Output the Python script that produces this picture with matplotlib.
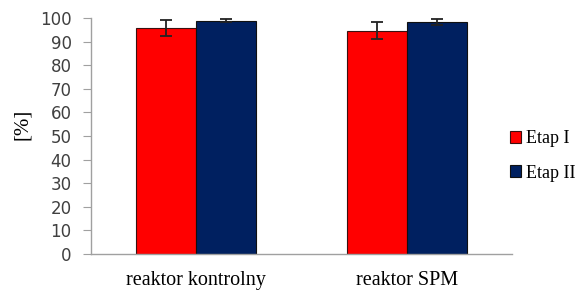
import matplotlib
matplotlib.use("Agg")
import matplotlib.pyplot as plt
import numpy as np

categories = ["reaktor kontrolny", "reaktor SPM"]
series_names = ["Etap I", "Etap II"]
etap1 = [95.6, 94.6]
etap1_err = [3.4, 3.7]
etap2 = [98.9, 98.2]
etap2_err = [0.5, 1.2]
yticks = list(range(0, 101, 10))

colors = ["#FF0000", "#002060"]

fig = plt.figure(figsize=(5.85, 2.91), dpi=100)
ax = fig.add_axes([91/585, 1-254/291, (512-91)/585, (254-18)/291])

x = np.arange(len(categories))
w = 0.285
ax.bar(x - w/2, etap1, w, color=colors[0], edgecolor="#3a1010", linewidth=0.8,
       yerr=etap1_err, capsize=4, error_kw=dict(ecolor="#222222", elinewidth=1.3, capthick=1.3),
       label=series_names[0])
ax.bar(x + w/2, etap2, w, color=colors[1], edgecolor="#101010", linewidth=0.8,
       yerr=etap2_err, capsize=4, error_kw=dict(ecolor="#222222", elinewidth=1.3, capthick=1.3),
       label=series_names[1])

ax.set_xlim(-0.5, 1.5)
ax.set_ylim(0, 100)
ax.set_yticks(yticks)
ax.set_xticks(x)
ax.set_xticklabels(categories, fontfamily="Liberation Serif", fontsize=14.5)
ax.tick_params(axis="x", length=0, pad=12)
ax.tick_params(axis="y", length=6, color="#a0a0a0", labelsize=12, labelcolor="#404040", pad=8)
for s in ["top", "right"]:
    ax.spines[s].set_visible(False)
for s in ["left", "bottom"]:
    ax.spines[s].set_color("#a0a0a0")
    ax.spines[s].set_linewidth(1)

fig.text(23/585, 1-124/291, "[%]", rotation=90, fontfamily="Liberation Serif",
         fontsize=15, ha="center", va="center")

leg = fig.legend(loc="center left", bbox_to_anchor=(510/585, 1-156/291), frameon=False,
                 prop=dict(family="Liberation Serif", size=13), handlelength=0.6,
                 handleheight=0.6, handletextpad=0.3, labelspacing=0.95, borderpad=0,
                 borderaxespad=0)

fig.savefig("out.png", dpi=100)
